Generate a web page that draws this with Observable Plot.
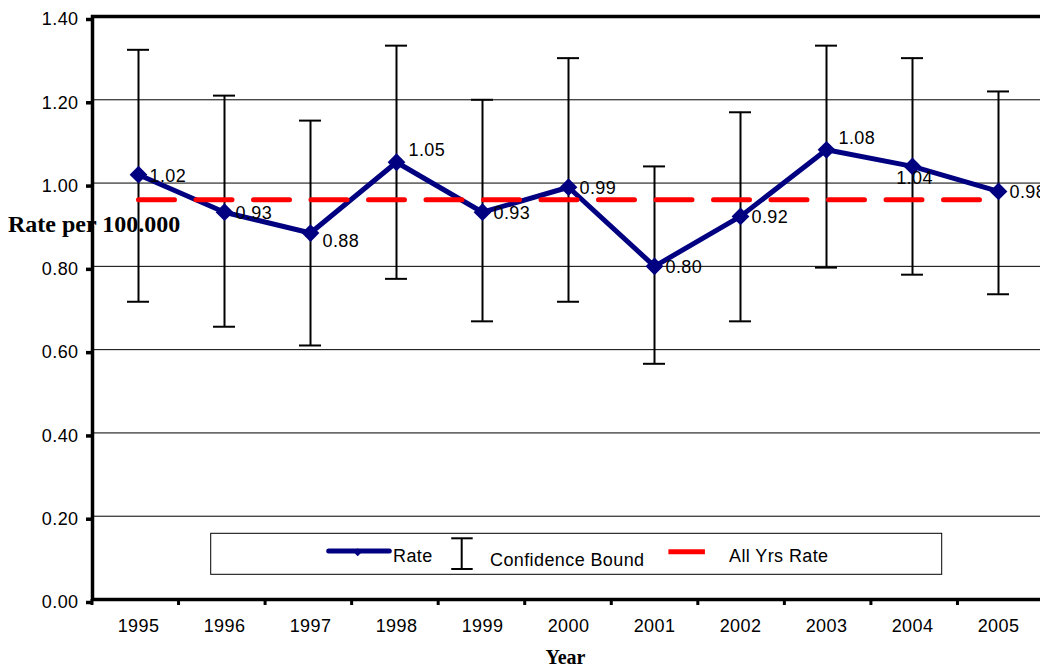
<!DOCTYPE html>
<html>
<head>
<meta charset="utf-8">
<script src="https://cdn.jsdelivr.net/npm/d3@7"></script>
<script src="https://cdn.jsdelivr.net/npm/@observablehq/plot@0.6"></script>
<style>
  html, body { margin: 0; padding: 0; background: #fff; overflow: hidden; }
  #chart { position: relative; width: 1046px; height: 666px; }
</style>
</head>
<body>
<div id="chart"></div>
<script>
// ---- data ----
const years = ["1995","1996","1997","1998","1999","2000","2001","2002","2003","2004","2005"];
const rates = [1.02, 0.93, 0.88, 1.05, 0.93, 0.99, 0.80, 0.92, 1.08, 1.04, 0.98];
const upperBound = [1.32, 1.21, 1.15, 1.33, 1.20, 1.30, 1.04, 1.17, 1.33, 1.30, 1.22];
const lowerBound = [0.715, 0.655, 0.61, 0.77, 0.668, 0.715, 0.566, 0.668, 0.797, 0.78, 0.733];
const allYrsRate = 0.96;
const yTicks = [0, 0.2, 0.4, 0.6, 0.8, 1.0, 1.2, 1.4];
const labelPlacement = ["right","right","lowright","upright","right","right","right","right","upright","below","right"];

const data = years.map((year, i) => ({
  year, rate: rates[i], upper: upperBound[i], lower: lowerBound[i],
  label: rates[i].toFixed(2), place: labelPlacement[i]
}));
const allYrs = years.map(year => ({year, value: allYrsRate}));

const NAVY = "#000080", RED = "#ff0000";
const sans = "'Liberation Sans', Arial, sans-serif";
const serif = "'Liberation Serif', 'Times New Roman', serif";

const labelMark = (place, opts) => Plot.text(data.filter(d => d.place === place),
  {x: "year", y: "rate", text: "label", fontSize: 18, fill: "#000", ...opts});

const plot = Plot.plot({
  width: 1046, height: 666,
  marginLeft: 92, marginRight: 2, marginTop: 16, marginBottom: 67,
  style: {fontFamily: sans, fontSize: "18px", background: "#fff", color: "#000", overflow: "visible", letterSpacing: "0.4px"},
  x: {type: "band", domain: years, padding: 0, label: null},
  y: {domain: [0, 1.4], label: null},
  marks: [
    Plot.ruleY(yTicks.filter(t => t > 0 && t < 1.4), {stroke: "#000", strokeWidth: 1}),
    Plot.axisY({ticks: yTicks, tickFormat: d3.format(".2f"), tickSize: 6, tickPadding: 8,
                strokeWidth: 3.5, fontSize: 18, dy: 3, label: null}),
    Plot.axisX({tickSize: 0, tickPadding: 20, fontSize: 18, label: null}),
    Plot.ruleX(data, {x: "year", y1: "lower", y2: "upper", stroke: "#000", strokeWidth: 2}),
    Plot.tickY(data, {x: "year", y: "upper", stroke: "#000", strokeWidth: 2, inset: 32}),
    Plot.tickY(data, {x: "year", y: "lower", stroke: "#000", strokeWidth: 2, inset: 32}),
    Plot.line(data, {x: "year", y: "rate", stroke: NAVY, strokeWidth: 5, strokeLinejoin: "miter"}),
    Plot.line(allYrs, {x: "year", y: "value", stroke: RED, strokeWidth: 5, strokeDasharray: "36 21.5"}),
    Plot.dot(data, {x: "year", y: "rate", symbol: "diamond2", r: 8, fill: NAVY, stroke: "none"}),
    labelMark("right", {textAnchor: "start", dx: 11, dy: 1}),
    labelMark("lowright", {textAnchor: "start", dx: 12, dy: 8}),
    labelMark("upright", {textAnchor: "start", dx: 12, dy: -12}),
    labelMark("below", {textAnchor: "middle", dx: 2, dy: 12}),
    Plot.frame({stroke: "#000", strokeWidth: 3.5})
  ]
});

document.getElementById("chart").appendChild(plot);

// band-boundary tick marks on the x axis, using the plot's own x scale
const xs = plot.scale("x");
const band = d3.scaleBand().domain(xs.domain).range(xs.range).padding(0);
const boundaries = xs.domain.map(d => band(d)).concat([band(xs.domain[xs.domain.length - 1]) + band.bandwidth()]);
const yScale = plot.scale("y");
const yBase = yScale.range[0];
const svg = d3.select(plot);
svg.append("g").selectAll("line").data(boundaries).join("line")
  .attr("x1", d => d).attr("x2", d => d)
  .attr("y1", yBase).attr("y2", yBase + 6)
  .attr("stroke", "#000").attr("stroke-width", 3);

// axis titles
svg.append("text").text("Rate per 100.000")
  .attr("x", 8).attr("y", 232).attr("text-anchor", "start").style("letter-spacing", "0")
  .attr("font-family", serif).attr("font-weight", "bold").attr("font-size", 24).attr("fill", "#000");
svg.append("text").text("Year")
  .attr("x", 565.5).attr("y", 664).attr("text-anchor", "middle").style("letter-spacing", "0")
  .attr("font-family", serif).attr("font-weight", "bold").attr("font-size", 20).attr("fill", "#000");

// legend
const lg = svg.append("g").attr("transform", "translate(210.7,533.3)").attr("text-anchor", "start");
lg.append("rect").attr("width", 731).attr("height", 41)
  .attr("fill", "#fff").attr("stroke", "#000").attr("stroke-width", 1);
lg.append("line").attr("x1", 118).attr("x2", 178.6).attr("y1", 17.7).attr("y2", 17.7)
  .attr("stroke", NAVY).attr("stroke-width", 5).attr("stroke-linecap", "round");
lg.append("path").attr("d", d3.symbol(d3.symbolDiamond2, 40)()).attr("transform", "translate(147,19)").attr("fill", NAVY);
lg.append("text").text("Rate").attr("x", 182.3).attr("y", 28.8).attr("text-anchor", "start")
  .attr("font-family", sans).attr("font-size", 18).attr("fill", "#000");
lg.append("line").attr("x1", 251).attr("x2", 251).attr("y1", 5).attr("y2", 35.7).attr("stroke", "#000").attr("stroke-width", 2);
lg.append("line").attr("x1", 240.5).attr("x2", 262).attr("y1", 5).attr("y2", 5).attr("stroke", "#000").attr("stroke-width", 2);
lg.append("line").attr("x1", 240.5).attr("x2", 262).attr("y1", 35.7).attr("y2", 35.7).attr("stroke", "#000").attr("stroke-width", 2);
lg.append("text").text("Confidence Bound").attr("x", 279.3).attr("y", 32.4).attr("text-anchor", "start")
  .attr("font-family", sans).attr("font-size", 18).attr("fill", "#000");
lg.append("line").attr("x1", 457.7).attr("x2", 494.2).attr("y1", 18.4).attr("y2", 18.4)
  .attr("stroke", RED).attr("stroke-width", 5);
lg.append("text").text("All Yrs Rate").attr("x", 518.3).attr("y", 28.8).attr("text-anchor", "start")
  .attr("font-family", sans).attr("font-size", 18).attr("fill", "#000");
</script>
</body>
</html>
